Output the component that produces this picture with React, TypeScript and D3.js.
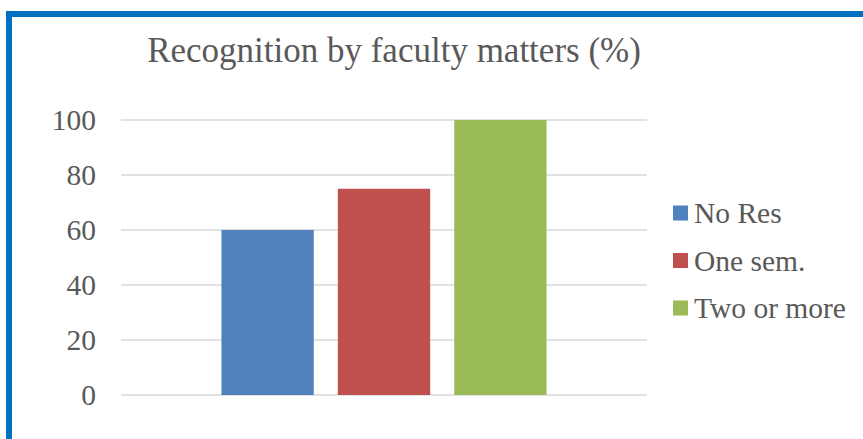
import React from "react";
import * as d3 from "d3";

const categories = ["Recognition"];
const seriesNames = ["No Res", "One sem.", "Two or more"];
const seriesValues = [60, 75, 100];
const seriesColors = ["#4F81BD", "#C0504D", "#9BBB59"];
const yTicks = [0, 20, 40, 60, 80, 100];

const W = 863;
const H = 439;
const plot = { left: 121, right: 647, top: 120, bottom: 395 };
const font = "'Liberation Serif', 'Times New Roman', serif";
const textColor = "#595959";

export default function App() {
  const y = d3.scaleLinear().domain([0, 100]).range([plot.bottom, plot.top]);

  const x0 = d3
    .scaleBand()
    .domain(categories)
    .range([plot.left, plot.right])
    .paddingInner(0)
    .paddingOuter(0.309);

  const x1 = d3
    .scaleBand()
    .domain(seriesNames)
    .range([0, x0.bandwidth()])
    .paddingInner(0.207)
    .paddingOuter(0);

  return (
    <div style={{ position: "absolute", left: 0, top: 0, width: W, height: H }}>
      <svg width={W} height={H} style={{ display: "block", background: "#fff" }}>
        {/* frame */}
        <rect x={9} y={14} width={W + 20} height={H + 20} fill="none" stroke="#0070C0" strokeWidth={6} />

        <text
          x={394}
          y={62}
          textAnchor="middle"
          fontFamily={font}
          fontSize={35}
          fill={textColor}
        >
          Recognition by faculty matters (%)
        </text>

        {/* gridlines + y ticks */}
        {yTicks.map((t) => (
          <g key={t}>
            <line
              x1={plot.left}
              x2={plot.right}
              y1={y(t)}
              y2={y(t)}
              stroke="#d9d9d9"
              strokeWidth={1.5}
            />
            <text
              x={96}
              y={y(t)}
              dy="0.35em"
              textAnchor="end"
              fontFamily={font}
              fontSize={29.5}
              fill={textColor}
            >
              {t}
            </text>
          </g>
        ))}

        {/* bars */}
        {categories.map((c) => (
          <g key={c} transform={`translate(${x0(c)},0)`}>
            {seriesNames.map((s, i) => (
              <rect
                key={s}
                x={x1(s)}
                y={y(seriesValues[i])}
                width={x1.bandwidth()}
                height={y(0) - y(seriesValues[i])}
                fill={seriesColors[i]}
              />
            ))}
          </g>
        ))}

        {/* legend */}
        {seriesNames.map((s, i) => {
          const cy = 213 + i * 47.5;
          return (
            <g key={s}>
              <rect x={673} y={cy - 7.5} width={15} height={15} fill={seriesColors[i]} />
              <text
                x={694}
                y={cy}
                dy="0.35em"
                fontFamily={font}
                fontSize={29.5}
                fill={textColor}
              >
                {s}
              </text>
            </g>
          );
        })}
      </svg>
    </div>
  );
}
